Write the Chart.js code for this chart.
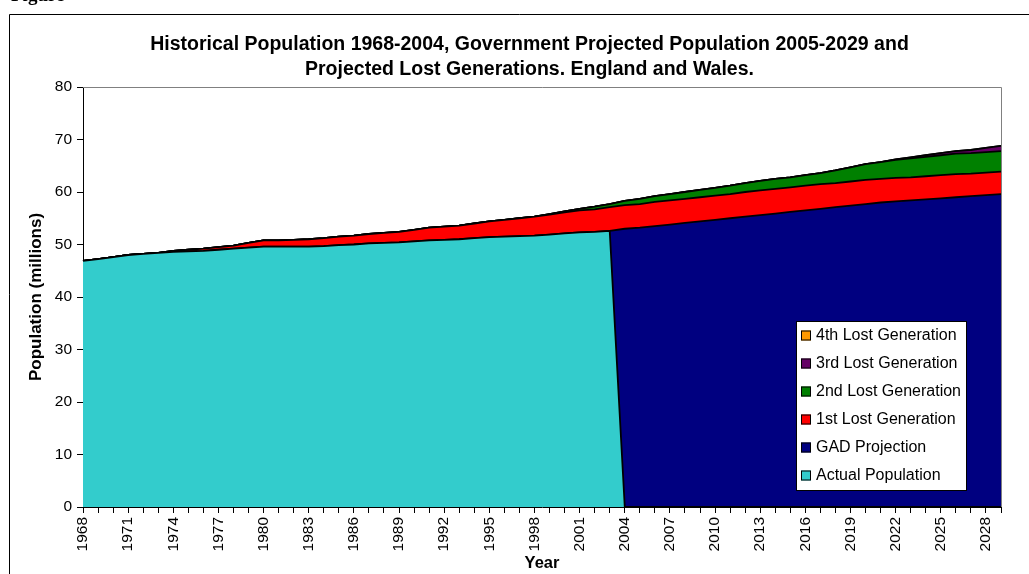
<!DOCTYPE html>
<html><head><meta charset="utf-8">
<script src="https://cdn.jsdelivr.net/npm/chart.js@4.4.1/dist/chart.umd.min.js"></script>
<style>html,body{margin:0;padding:0;background:#fff;overflow:hidden}#wrap{position:relative;width:1029px;height:574px}</style>
</head><body><div id="wrap"><canvas id="c" width="1029" height="574"></canvas></div>
<script>
const years = ['1968','1969','1970','1971','1972','1973','1974','1975','1976','1977','1978','1979','1980','1981','1982','1983','1984','1985','1986','1987','1988','1989','1990','1991','1992','1993','1994','1995','1996','1997','1998','1999','2000','2001','2002','2003','2004','2005','2006','2007','2008','2009','2010','2011','2012','2013','2014','2015','2016','2017','2018','2019','2020','2021','2022','2023','2024','2025','2026','2027','2028','2029'];
const actualPopulation = [46.9,47.2,47.6,48.0,48.2,48.4,48.6,48.7,48.8,49.0,49.2,49.4,49.6,49.6,49.6,49.6,49.7,49.9,50.0,50.2,50.3,50.4,50.6,50.8,50.9,51.0,51.2,51.4,51.5,51.6,51.7,51.9,52.1,52.3,52.4,52.6,
  0,0,0,0,0,0,0,0,0,0,0,0,0,0,0,0,0,0,0,0,0,0,0,0,0,0];
const gadProjection = [0,0,0,0,0,0,0,0,0,0,0,0,0,0,0,0,0,0,0,0,0,0,0,0,0,0,0,0,0,0,0,0,0,0,0,0,
  53.0,53.2,53.5,53.8,54.1,54.4,54.7,55.0,55.3,55.6,55.9,56.2,56.5,56.8,57.1,57.4,57.7,58.0,58.2,58.4,58.6,58.8,59.0,59.2,59.4,59.6];
const lost1 = [0,0,0,0,0,0,0.2,0.3,0.4,0.5,0.6,0.9,1.2,1.2,1.3,1.4,1.5,1.6,1.7,1.8,1.9,2.0,2.2,2.4,2.5,2.6,2.8,3.0,3.2,3.4,3.6,3.8,4.0,4.2,4.3,4.5,
  4.5,4.5,4.6,4.6,4.6,4.6,4.6,4.6,4.7,4.7,4.7,4.7,4.7,4.7,4.6,4.6,4.6,4.5,4.5,4.4,4.4,4.4,4.4,4.3,4.3,4.3];
const lost2 = [0,0,0,0,0,0,0,0,0,0,0,0,0,0,0,0,0,0,0,0,0,0,0,0,0,0,0,0,0,0,0,0.1,0.2,0.3,0.5,0.6,
  0.8,1.0,1.1,1.2,1.3,1.4,1.5,1.6,1.7,1.8,1.9,1.9,2.0,2.1,2.4,2.7,3.0,3.2,3.4,3.6,3.7,3.8,3.9,3.9,3.9,3.9];
const lost3 = [0,0,0,0,0,0,0,0,0,0,0,0,0,0,0,0,0,0,0,0,0,0,0,0,0,0,0,0,0,0,0,0,0,0,0,0,
  0,0,0,0,0,0,0,0,0,0,0,0,0,0,0,0,0,0,0.1,0.2,0.3,0.4,0.5,0.6,0.8,1.0];
const lost4 = [0,0,0,0,0,0,0,0,0,0,0,0,0,0,0,0,0,0,0,0,0,0,0,0,0,0,0,0,0,0,0,0,0,0,0,0,
  0,0,0,0,0,0,0,0,0,0,0,0,0,0,0,0,0,0,0,0,0,0,0,0,0,0];
const seriesNames = ['Actual Population','GAD Projection','1st Lost Generation','2nd Lost Generation','3rd Lost Generation','4th Lost Generation'];
const seriesColors = ['#33CCCC','#000080','#FF0000','#008000','#660066','#FF9900'];
const titleLines = ['Historical Population 1968-2004, Government Projected Population 2005-2029 and','Projected Lost Generations. England and Wales.'];

const FONT = "'Liberation Sans', Arial, sans-serif";
const values = [actualPopulation, gadProjection, lost1, lost2, lost3, lost4];
const datasets = values.map((v, i) => ({
  label: seriesNames[i], data: v,
  backgroundColor: seriesColors[i], borderColor: '#000', borderWidth: 1.8,
  fill: i === 0 ? 'origin' : '-1', pointRadius: 0, tension: 0
}));

const decor = {
  id: 'decor',
  beforeDraw(chart) {
    const ctx = chart.ctx;
    ctx.save();
    ctx.fillStyle = '#fff'; ctx.fillRect(0, 0, chart.width, chart.height);
    ctx.strokeStyle = '#000'; ctx.lineWidth = 1;
    ctx.beginPath(); ctx.moveTo(9.5, 574); ctx.lineTo(9.5, 14.5); ctx.lineTo(1029, 14.5); ctx.stroke();
    ctx.fillStyle = '#000'; ctx.font = "bold 19px 'Liberation Serif', 'Times New Roman', serif";
    ctx.textBaseline = 'alphabetic'; ctx.textAlign = 'left';
    ctx.fillText('Figure', 11, 1);
    ctx.font = 'bold 19.5px ' + FONT; ctx.textAlign = 'center';
    ctx.fillText(titleLines[0], 529.5, 50);
    ctx.fillText(titleLines[1], 529.5, 74.5);
    ctx.restore();
  },
  afterDraw(chart) {
    const ctx = chart.ctx, a = chart.chartArea;
    ctx.save();
    ctx.strokeStyle = '#808080'; ctx.lineWidth = 1;
    ctx.beginPath(); ctx.moveTo(a.left, a.top + 0.5); ctx.lineTo(a.right + 0.5, a.top + 0.5); ctx.lineTo(a.right + 0.5, a.bottom); ctx.stroke();
    // legend
    const bx = 796, by = 321, bw = 170, bh = 169;
    ctx.fillStyle = '#fff'; ctx.fillRect(bx, by, bw, bh);
    ctx.strokeStyle = '#000'; ctx.strokeRect(bx + 0.5, by + 0.5, bw, bh);
    ctx.font = '16px ' + FONT; ctx.textBaseline = 'middle'; ctx.textAlign = 'left';
    const ds = chart.data.datasets;
    for (let k = 0; k < ds.length; k++) {
      const d = ds[ds.length - 1 - k];
      const cy = 335 + k * 28;
      ctx.fillStyle = d.backgroundColor; ctx.fillRect(801, cy - 4.5, 10, 10);
      ctx.strokeStyle = '#000'; ctx.strokeRect(801.5, cy - 4, 9, 9);
      ctx.fillStyle = '#000'; ctx.fillText(d.label, 816, cy + 1);
    }
    ctx.restore();
  }
};

new Chart(document.getElementById('c'), {
  type: 'line',
  data: { labels: years, datasets },
  plugins: [decor],
  options: {
    responsive: false, animation: false, devicePixelRatio: 1,
    layout: { padding: { left: 9, right: 28, top: 87, bottom: 0 } },
    plugins: { legend: { display: false }, title: { display: false }, tooltip: { enabled: false }, filler: { propagate: false } },
    elements: { line: { borderJoinStyle: 'round' } },
    scales: {
      x: {
        offset: false,
        grid: { drawOnChartArea: false, drawTicks: true, tickLength: 6, color: '#000' },
        border: { display: true, color: '#000', width: 1 },
        ticks: { autoSkip: false, minRotation: 90, maxRotation: 90, padding: 4, color: '#000',
          font: { family: FONT, size: 15.5 },
          callback: function(v, i) { return i % 3 === 0 ? this.getLabelForValue(v) : ''; } },
        title: { display: true, text: 'Year', color: '#000', font: { family: FONT, size: 16.5, weight: 'bold' }, padding: { top: 0, bottom: 1 } },
        afterFit(s) { s.height = 67; }
      },
      y: {
        stacked: true, min: 0, max: 80,
        grid: { drawOnChartArea: false, drawTicks: true, tickLength: 6, color: '#000' },
        border: { display: true, color: '#000', width: 1 },
        ticks: { stepSize: 10, padding: 5, color: '#000', font: { family: FONT, size: 15.5 } },
        title: { display: true, text: 'Population (millions)', color: '#000', font: { family: FONT, size: 17, weight: 'bold' }, padding: { top: 17, bottom: 0 } },
        afterFit(s) { s.width = 74; }
      }
    }
  }
});
</script></body></html>
